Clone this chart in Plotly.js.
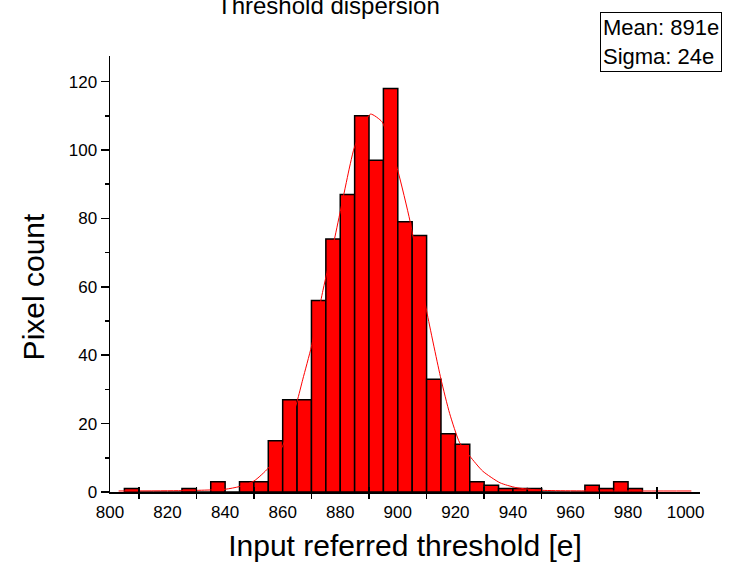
<!DOCTYPE html>
<html>
<head>
<meta charset="utf-8">
<script src="https://cdn.plot.ly/plotly-3.0.1.min.js"></script>
<style>html,body{margin:0;padding:0;background:#fff;}#chart{width:730px;height:571px;}</style>
</head>
<body>
<div id="chart"></div>
<script>
// Histogram bins (left edge, width 5 e) and pixel counts
const binLeft = [805, 810, 815, 820, 825, 830, 835, 840, 845, 850, 855, 860, 865, 870, 875, 880, 885, 890, 895, 900, 905, 910, 915, 920, 925, 930, 935, 940, 945, 950, 955, 960, 965, 970, 975, 980];
const counts  = [1, 0, 0, 0, 1, 0, 3, 0, 3, 3, 15, 27, 27, 56, 74, 87, 110, 97, 118, 79, 75, 33, 17, 14, 3, 2, 1, 1, 1, 0, 0, 0, 2, 1, 3, 1];
const binWidth = 5;

// Fitted curve
const fitX = [803, 825, 840, 845, 850, 855, 860, 865, 867, 870, 874, 878, 883.5, 885, 890.5, 894.5, 895.5, 900, 904.3, 910, 915, 918, 921.5, 925, 929.5, 935.5, 941, 950, 975, 1002];
const fitY = [0.3, 0.4, 0.8, 1.6, 3.2, 7, 13.5, 26.5, 33, 42.6, 59, 74, 96, 101, 110.5, 108.3, 106.4, 94, 79, 53, 33, 23, 14.4, 10.5, 6.1, 2.7, 1.3, 0.5, 0.3, 0.3];

// Axis ticks and labels
const xLabelVals = [800, 820, 840, 860, 880, 900, 920, 940, 960, 980, 1000];
const xLabelText = ["800", "820", "840", "860", "880", "900", "920", "940", "960", "980", "1000"];
const xTickVals = [810, 830, 850, 870, 890, 910, 930, 950, 970, 990];
const yMajor = [0, 20, 40, 60, 80, 100, 120];
const yMinor = [10, 30, 50, 70, 90, 110];

const titleText = "Threshold dispersion";
const xTitle = "Input referred threshold [e]";
const yTitle = "Pixel count";
const statsText = "Mean: 891e<br>Sigma: 24e";

const FONT = "Liberation Sans, Arial, sans-serif";

const traces = [
  {
    type: "bar",
    x: binLeft,
    y: counts,
    width: binWidth,
    offset: 0,
    marker: { color: "#ff0000", line: { color: "#000000", width: 1.5 } },
    hoverinfo: "x+y",
    showlegend: false
  },
  {
    type: "scatter",
    mode: "lines",
    x: fitX,
    y: fitY,
    line: { color: "#ff0000", width: 1, shape: "spline", smoothing: 0.6 },
    showlegend: false
  }
];

const xRange = [800, 1005];
const layout = {
  width: 730,
  height: 571,
  margin: { l: 110, r: 30, t: 56, b: 79 },
  paper_bgcolor: "#ffffff",
  plot_bgcolor: "#ffffff",
  font: { family: FONT, color: "#000000", size: 17 },
  showlegend: false,
  bargap: 0,
  xaxis: {
    range: xRange,
    showgrid: false,
    zeroline: false,
    showline: true,
    linecolor: "#000000",
    linewidth: 1.5,
    tickmode: "array",
    tickvals: xLabelVals,
    ticktext: xLabelText,
    ticks: "outside",
    ticklen: 4,
    tickcolor: "rgba(0,0,0,0)",
    tickfont: { family: FONT, size: 17, color: "#000" },
    minor: { tickmode: "array", tickvals: xTickVals, ticks: "outside", ticklen: 5, tickwidth: 1.5, tickcolor: "#000000", showgrid: false },
    title: { text: xTitle, font: { family: FONT, size: 30, color: "#000" }, standoff: 14 }
  },
  xaxis2: {
    overlaying: "x",
    matches: "x",
    anchor: "y",
    range: xRange,
    showgrid: false,
    zeroline: false,
    showline: false,
    showticklabels: false,
    tickmode: "array",
    tickvals: xTickVals,
    ticks: "inside",
    ticklen: 5,
    tickwidth: 1.5,
    tickcolor: "#000000"
  },
  yaxis: {
    range: [0, 127.5],
    showgrid: false,
    zeroline: false,
    showline: true,
    linecolor: "#000000",
    linewidth: 1.5,
    tickmode: "array",
    tickvals: yMajor,
    ticks: "outside",
    ticklen: 8,
    tickwidth: 1.5,
    tickcolor: "#000000",
    tickfont: { family: FONT, size: 17, color: "#000" },
    minor: { tickmode: "array", tickvals: yMinor, ticks: "outside", ticklen: 4, tickwidth: 1.5, tickcolor: "#000000", showgrid: false }
  },
  annotations: [
    {
      text: yTitle,
      xref: "paper", yref: "paper",
      x: -0.13, y: 0.47,
      xanchor: "center", yanchor: "middle",
      textangle: -90,
      showarrow: false,
      font: { family: FONT, size: 30, color: "#000" }
    },
    {
      text: titleText,
      xref: "paper", yref: "paper",
      x: 0.178, y: 1.1147,
      xanchor: "left", yanchor: "middle",
      showarrow: false,
      font: { family: FONT, size: 24, color: "#000" }
    },
    {
      text: statsText,
      xref: "paper", yref: "paper",
      x: 1.038, y: 1.101,
      xanchor: "right", yanchor: "top",
      align: "left",
      showarrow: false,
      bgcolor: "#ffffff",
      bordercolor: "#000000",
      borderwidth: 1,
      borderpad: 2,
      font: { family: FONT, size: 22, color: "#000" }
    }
  ]
};

// invisible helper trace so the overlaid tick axis is drawn
traces.push({ type: "scatter", x: [800], y: [0], xaxis: "x2", mode: "markers", marker: { opacity: 0 }, hoverinfo: "skip", showlegend: false });

Plotly.newPlot("chart", traces, layout, { displayModeBar: false, staticPlot: true });
</script>
</body>
</html>
